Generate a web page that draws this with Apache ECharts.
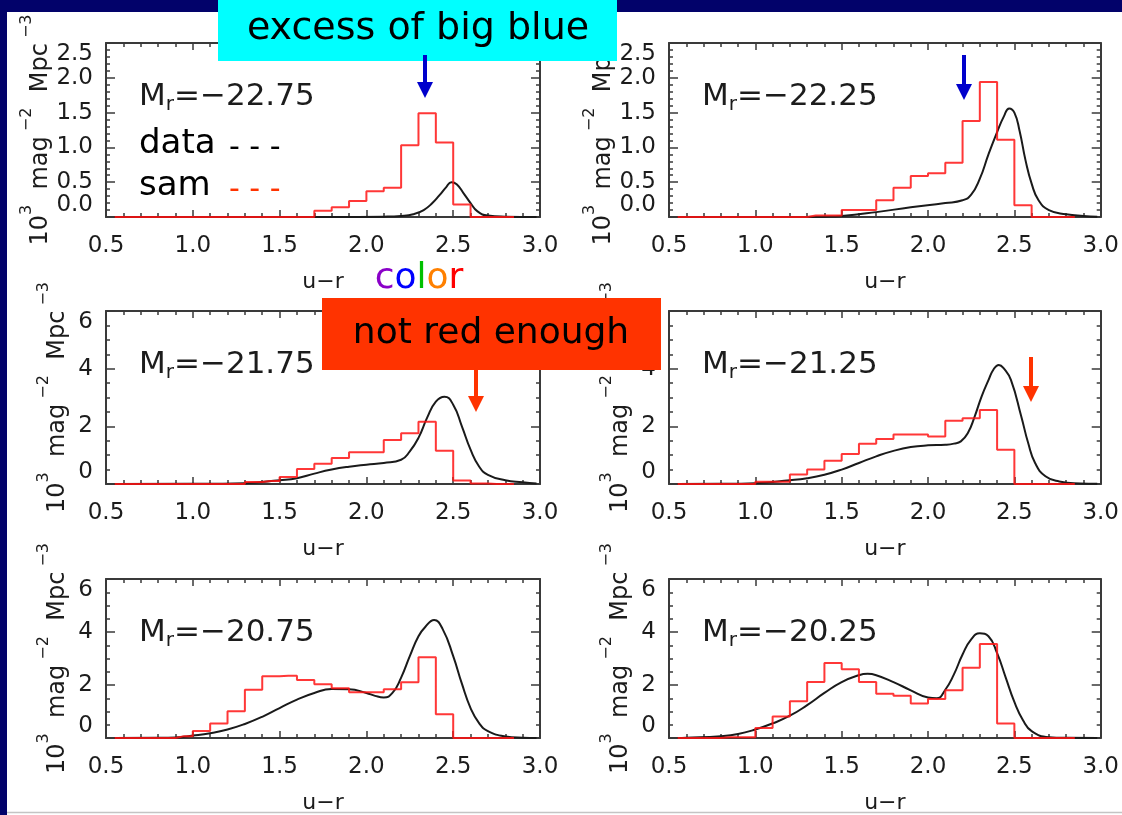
<!DOCTYPE html>
<html><head><meta charset="utf-8">
<script src="https://cdn.jsdelivr.net/npm/echarts@6/dist/echarts.min.js"></script>
<style>html,body{margin:0;padding:0;background:#fff;overflow:hidden}#c{width:1122px;height:815px}</style>
</head><body><div id="c"></div><script>
// ---------- data ----------
const binCenters = [0.55,0.65,0.75,0.85,0.95,1.05,1.15,1.25,1.35,1.45,1.55,1.65,1.75,1.85,1.95,2.05,2.15,2.25,2.35,2.45,2.55,2.65,2.75,2.85];
const panelMr = ['−22.75','−22.25','−21.75','−21.25','−20.75','−20.25'];
const xTickLabels = ['0.5','1.0','1.5','2.0','2.5','3.0'];
const yTickLabelsBright = ['0.0','0.5','1.0','1.5','2.0','2.5'];
const yTickLabelsFaint = ['0','2','4','6'];

// sam (red histogram), one value per colour bin
const samMr2275 = [0,0,0,0,0,0,0,0,0,0,0,0,0.09,0.14,0.23,0.37,0.42,1.03,1.49,1.07,0.18,0,0,0];
const samMr2225 = [0,0,0,0,0,0,0,0,0.02,0.02,0.10,0.10,0.24,0.42,0.59,0.63,0.78,1.38,1.94,1.11,0.17,0,0,0];
const samMr2175 = [0,0,0,0,0,0,0,0,0.07,0.10,0.24,0.52,0.70,0.90,1.10,1.10,1.53,1.76,2.16,1.15,0.12,0.02,0,0];
const samMr2125 = [0,0,0,0,0,0.08,0.08,0.33,0.50,0.81,1.04,1.40,1.56,1.72,1.72,1.65,2.19,2.28,2.57,1.19,0,0,0,0];
const samMr2075 = [0,0,0,0,0.07,0.26,0.55,1.01,1.82,2.33,2.35,2.19,2.03,1.88,1.73,1.73,1.84,2.10,3.05,0.90,0,0,0,0];
const samMr2025 = [0,0,0,0.03,0.03,0.38,0.81,1.39,2.11,2.83,2.59,2.11,1.67,1.59,1.30,1.47,1.80,2.65,3.55,0.55,0,0,0,0];

// data (black curves)
const dataMr2275X = [0.55,1.8,2.1,2.2,2.27,2.33,2.38,2.42,2.46,2.49,2.52,2.56,2.6,2.64,2.7,2.8,2.98];
const dataMr2275Y = [0,0,0.005,0.015,0.04,0.1,0.2,0.31,0.43,0.5,0.47,0.34,0.2,0.08,0.02,0.005,0];
const dataMr2225X = [0.55,1.2,1.4,1.5,1.7,1.9,2.1,2.2,2.25,2.3,2.35,2.4,2.44,2.47,2.5,2.53,2.565,2.6,2.64,2.7,2.8,2.9,2.98];
const dataMr2225Y = [0,0,0.005,0.015,0.07,0.14,0.2,0.24,0.32,0.55,0.9,1.22,1.45,1.56,1.5,1.24,0.81,0.48,0.24,0.1,0.04,0.015,0.005];
const dataMr2175X = [0.55,1.0,1.3,1.5,1.6,1.7,1.8,1.9,2.0,2.1,2.2,2.25,2.3,2.35,2.4,2.45,2.5,2.55,2.6,2.65,2.7,2.8,2.9,2.98];
const dataMr2175Y = [0,0.005,0.03,0.13,0.2,0.36,0.5,0.6,0.67,0.73,0.84,1.13,1.6,2.3,2.86,3.03,2.75,2.0,1.19,0.6,0.32,0.13,0.06,0.02];
const dataMr2125X = [0.55,0.8,1.0,1.2,1.3,1.4,1.5,1.6,1.7,1.8,1.9,2.0,2.1,2.15,2.19,2.23,2.27,2.31,2.35,2.38,2.41,2.44,2.48,2.54,2.58,2.62,2.68,2.76,2.88,2.98];
const dataMr2125Y = [0,0.005,0.03,0.13,0.2,0.32,0.5,0.73,0.96,1.15,1.28,1.34,1.36,1.40,1.48,1.76,2.34,3.03,3.6,3.98,4.13,4.0,3.61,2.34,1.42,0.73,0.27,0.09,0.02,0.005];
const dataMr2075X = [0.55,0.8,0.9,1.0,1.1,1.2,1.3,1.4,1.5,1.6,1.7,1.8,1.9,2.0,2.05,2.1,2.15,2.2,2.25,2.3,2.34,2.39,2.44,2.5,2.55,2.6,2.65,2.7,2.8,2.9,2.98];
const dataMr2075Y = [0,0.005,0.02,0.09,0.18,0.32,0.53,0.8,1.13,1.45,1.7,1.85,1.84,1.7,1.59,1.53,1.7,2.28,3.09,3.84,4.2,4.45,4.1,3.09,2.05,1.13,0.55,0.26,0.06,0.01,0];
const dataMr2025X = [0.55,0.6,0.8,0.9,1.0,1.1,1.2,1.3,1.4,1.5,1.6,1.65,1.7,1.8,1.9,2.0,2.05,2.1,2.15,2.2,2.25,2.3,2.35,2.4,2.45,2.5,2.55,2.6,2.7,2.8,2.98];
const dataMr2025Y = [0,0.01,0.07,0.15,0.32,0.55,0.84,1.24,1.7,2.11,2.37,2.42,2.37,2.11,1.8,1.53,1.5,1.82,2.4,3.15,3.72,3.95,3.84,3.2,2.28,1.36,0.67,0.26,0.03,0.005,0];

// ---------- layout ----------
const colLeft = [106, 669], colWidth = [434, 433];
const rowTop = [43, 311, 579], rowHeight = [174, 173, 174];
const panels = [
  {mr: panelMr[0], sam: samMr2275, dx: dataMr2275X, dy: dataMr2275Y, r: 0, c: 0},
  {mr: panelMr[1], sam: samMr2225, dx: dataMr2225X, dy: dataMr2225Y, r: 0, c: 1},
  {mr: panelMr[2], sam: samMr2175, dx: dataMr2175X, dy: dataMr2175Y, r: 1, c: 0},
  {mr: panelMr[3], sam: samMr2125, dx: dataMr2125X, dy: dataMr2125Y, r: 1, c: 1},
  {mr: panelMr[4], sam: samMr2075, dx: dataMr2075X, dy: dataMr2075Y, r: 2, c: 0},
  {mr: panelMr[5], sam: samMr2025, dx: dataMr2025X, dy: dataMr2025Y, r: 2, c: 1}
];

const FONT = 'DejaVu Sans';
const INK = '#1c1c1c';
const axisLine = {show: true, onZero: false, lineStyle: {color: '#3a3a3a', width: 2}};

const grid = [], xAxis = [], yAxis = [], series = [], graphic = [];
const xTop = [], yRight = [];
panels.forEach((p, i) => {
  const g = {left: colLeft[p.c], top: rowTop[p.r], width: colWidth[p.c], height: rowHeight[p.r]};
  grid.push(g);
  const bright = p.r === 0;
  const yMax = bright ? 2.5 : 6;
  const yInt = bright ? 0.5 : 2;
  const ySplit = bright ? 5 : 4;
  const xCommon = {
    gridIndex: i, type: 'value', min: 0.5, max: 3.0, interval: 0.5,
    axisLine: axisLine, splitLine: {show: false},
    axisTick: {show: true, inside: true, length: 7, lineStyle: {color: '#3a3a3a', width: 1.5}},
    minorTick: {show: true, splitNumber: 5, length: 4, lineStyle: {color: '#3a3a3a', width: 1.5}}
  };
  xAxis.push(Object.assign({}, xCommon, {
    position: 'bottom',
    axisLabel: {show: true, fontFamily: FONT, fontSize: 23, color: INK, margin: 18,
      formatter: v => xTickLabels[Math.round((v - 0.5) / 0.5)]},
    name: 'u−r', nameLocation: 'middle', nameGap: 54,
    nameTextStyle: {fontFamily: FONT, fontSize: 22, color: INK}
  }));
  xTop.push(Object.assign({}, xCommon, {position: 'top', axisLabel: {show: false}}));
  const yCommon = {
    gridIndex: i, type: 'value', min: 0, max: yMax, interval: yInt,
    axisLine: axisLine, splitLine: {show: false},
    axisTick: {show: true, inside: true, length: 9, lineStyle: {color: '#3a3a3a', width: 1.5}},
    minorTick: {show: true, splitNumber: ySplit, length: 4, lineStyle: {color: '#3a3a3a', width: 1.5}}
  };
  yAxis.push(Object.assign({}, yCommon, {
    position: 'left',
    axisLabel: {show: true, fontFamily: FONT, fontSize: 23, color: INK, margin: 13,
      verticalAlignMinLabel: 'bottom', verticalAlignMaxLabel: 'top',
      formatter: v => bright ? yTickLabelsBright[Math.round(v / 0.5)] : yTickLabelsFaint[Math.round(v / 2)]},
    name: '{n|10}{s|3}{n|  mag}{s| −2}{n|  Mpc}{s| −3}',
    nameLocation: 'middle', nameRotate: 90, nameGap: 36,
    nameTextStyle: {fontFamily: FONT, color: INK,
      rich: {n: {fontFamily: FONT, fontSize: 24, color: INK, lineHeight: 28, verticalAlign: 'bottom'},
             s: {fontFamily: FONT, fontSize: 16, color: INK, lineHeight: 34, verticalAlign: 'top'}}}
  }));
  yRight.push(Object.assign({}, yCommon, {position: 'right', axisLabel: {show: false}}));

  series.push({
    type: 'line', xAxisIndex: i, yAxisIndex: i, showSymbol: false, smooth: 0.5,
    data: p.dx.map((x, k) => [x, p.dy[k]]),
    lineStyle: {color: '#1a1a1a', width: 2}, z: 2, silent: true
  });
  series.push({
    type: 'line', xAxisIndex: i, yAxisIndex: i, showSymbol: false, step: 'middle',
    data: binCenters.map((x, k) => [x, p.sam[k]]),
    lineStyle: {color: '#ff1414', width: 2, opacity: 0.85}, z: 3, silent: true
  });

  graphic.push({
    type: 'text', left: g.left + 33, top: g.top + 38, z: 50,
    style: {
      text: '{m|M}{r|r}{m|=' + p.mr + '}',
      rich: {
        m: {fontFamily: FONT, fontSize: 31, fill: INK, lineHeight: 36, verticalAlign: 'middle'},
        r: {fontFamily: FONT, fontSize: 20, fill: INK, lineHeight: 14, verticalAlign: 'bottom'}
      }
    }
  });
});

// frame, annotation boxes, arrows and legend texts
const NAVY = '#02026a';
graphic.push(
  {type: 'rect', shape: {x: 0, y: 0, width: 1122, height: 12}, style: {fill: NAVY}, z: 100},
  {type: 'rect', shape: {x: 0, y: 0, width: 7, height: 815}, style: {fill: NAVY}, z: 100},
  {type: 'line', shape: {x1: 7, y1: 812.5, x2: 1122, y2: 812.5}, style: {stroke: '#c4c4c4', lineWidth: 1.5}, z: 100},
  {type: 'rect', shape: {x: 218, y: 0, width: 399, height: 61}, style: {fill: '#00ffff'}, z: 101},
  {type: 'text', x: 418, y: 29, z: 102,
   style: {text: 'excess of big blue', fontFamily: FONT, fontSize: 38, fill: '#000', align: 'center', verticalAlign: 'middle'}},
  {type: 'rect', shape: {x: 322, y: 298, width: 339, height: 72}, style: {fill: '#ff3300'}, z: 101},
  {type: 'text', x: 491, y: 334, z: 102,
   style: {text: 'not red enough', fontFamily: FONT, fontSize: 36, fill: '#000', align: 'center', verticalAlign: 'middle'}},
  // blue arrows
  {type: 'rect', shape: {x: 423, y: 55, width: 4, height: 30}, style: {fill: '#0000cc'}, z: 103},
  {type: 'polygon', shape: {points: [[417, 82], [433, 82], [425, 98]]}, style: {fill: '#0000cc'}, z: 103},
  {type: 'rect', shape: {x: 962, y: 55, width: 4, height: 31}, style: {fill: '#0000cc'}, z: 103},
  {type: 'polygon', shape: {points: [[956, 84], [972, 84], [964, 100]]}, style: {fill: '#0000cc'}, z: 103},
  // red arrows
  {type: 'rect', shape: {x: 474, y: 368, width: 4, height: 30}, style: {fill: '#ff3300'}, z: 103},
  {type: 'polygon', shape: {points: [[468, 396], [484, 396], [476, 412]]}, style: {fill: '#ff3300'}, z: 103},
  {type: 'rect', shape: {x: 1029, y: 357, width: 4, height: 31}, style: {fill: '#ff3300'}, z: 103},
  {type: 'polygon', shape: {points: [[1023, 386], [1039, 386], [1031, 402]]}, style: {fill: '#ff3300'}, z: 103},
  // legend texts
  {type: 'text', x: 139, y: 144, z: 60, style: {text: 'data', fontFamily: FONT, fontSize: 34, fill: '#000', align: 'left', verticalAlign: 'middle'}},
  {type: 'text', x: 229, y: 148, z: 60, style: {text: '- - -', fontFamily: FONT, fontSize: 30, fill: '#000', align: 'left', verticalAlign: 'middle'}},
  {type: 'text', x: 139, y: 186, z: 60, style: {text: 'sam', fontFamily: FONT, fontSize: 34, fill: '#000', align: 'left', verticalAlign: 'middle'}},
  {type: 'text', x: 229, y: 190, z: 60, style: {text: '- - -', fontFamily: FONT, fontSize: 30, fill: '#ff3300', align: 'left', verticalAlign: 'middle'}},
  // "color" word
  {type: 'text', x: 419, y: 279, z: 60, style: {
    text: '{a|c}{b|o}{c|l}{d|o}{e|r}', align: 'center', verticalAlign: 'middle',
    rich: {
      a: {fontFamily: FONT, fontSize: 36, fill: '#8a00c8'},
      b: {fontFamily: FONT, fontSize: 36, fill: '#0000ff'},
      c: {fontFamily: FONT, fontSize: 36, fill: '#00c000'},
      d: {fontFamily: FONT, fontSize: 36, fill: '#ff8000'},
      e: {fontFamily: FONT, fontSize: 36, fill: '#ff0000'}
    }}}
);

const chart = echarts.init(document.getElementById('c'), null, {renderer: 'canvas'});
chart.setOption({
  animation: false,
  backgroundColor: '#ffffff',
  grid: grid,
  xAxis: xAxis.concat(xTop),
  yAxis: yAxis.concat(yRight),
  series: series,
  graphic: graphic
});
</script></body></html>
